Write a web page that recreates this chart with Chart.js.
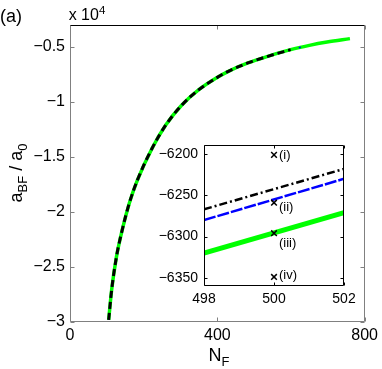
<!DOCTYPE html>
<html>
<head>
<meta charset="utf-8">
<script src="https://cdn.jsdelivr.net/npm/chart.js@4.4.0/dist/chart.umd.min.js"></script>
<style>
html, body { margin: 0; padding: 0; background: #fff; }
#wrap { position: relative; width: 382px; height: 369px; }
#main { position: absolute; left: 0; top: 0; }
#inset { position: absolute; left: 140px; top: 130px; }
</style>
</head>
<body>
<div id="wrap">
  <canvas id="main" width="382" height="369"></canvas>
  <canvas id="inset" width="242" height="180"></canvas>
</div>
<script>
// main panel: a_BF vs N_F (values in a_0)
const nMain = [105, 113, 126, 142, 161, 183, 223, 260, 303, 349, 397, 430, 483, 537, 599, 650, 698, 760];
const aMain = [-29800, -27100, -24100, -21600, -19200, -17100, -14200, -12100, -10300, -8900, -7820, -7210, -6450, -5850, -5240, -4850, -4550, -4240];
const nBlack = [105, 113, 126, 142, 161, 183, 223, 260, 303, 349, 397, 430, 483, 537, 599];
const aBlack = [-29800, -27100, -24100, -21600, -19200, -17100, -14200, -12100, -10300, -8900, -7820, -7210, -6450, -5850, -5240];
const nBlue = [105, 113, 126, 142, 161, 183, 223, 260, 303, 349, 397, 430, 483, 537, 599, 650];
const aBlue = [-29800, -27100, -24100, -21600, -19200, -17100, -14200, -12100, -10300, -8900, -7820, -7210, -6450, -5850, -5240, -4850];
const xTicks = [0, 400, 800];
const yTicks = [-30000, -25000, -20000, -15000, -10000, -5000];

// inset: zoom around N_F = 500
const nInset = [498, 502];
const aInsetBlack = [-6267, -6218];
const aInsetBlue = [-6280, -6230];
const aInsetGreen = [-6320, -6271];
const nMarker = [500, 500, 500, 500];
const aMarker = [-6201, -6259, -6296, -6349];
const markerLabels = ['(i)', '(ii)', '(iii)', '(iv)'];
const xInsetTicks = [498, 500, 502];
const yInsetTicks = [-6350, -6300, -6250, -6200];

const FONT = '"Liberation Sans", Arial, Helvetica, sans-serif';
const minus = s => String(s).replace('-', '\u2212');
const pts = (xs, ys) => xs.map((x, i) => ({ x: x, y: ys[i] }));

// draws text made of normal / subscript / superscript pieces
let drawPieces = (ctx, pieces, x, y, size) => {
    let w = 0;
    pieces.forEach(p => {
        ctx.font = (p.s ? size * 0.72 : size) + 'px ' + FONT;
        w += ctx.measureText(p.t).width;
    });
    let cx = x - w / 2;
    pieces.forEach(p => {
        ctx.font = (p.s ? size * 0.72 : size) + 'px ' + FONT;
        let dy = p.s === 'sub' ? size * 0.3 : (p.s === 'sup' ? -size * 0.4 : 0);
        ctx.fillText(p.t, cx, y + dy);
        cx += ctx.measureText(p.t).width;
    });
};

const mainFrame = {
    id: 'mainFrame',
    afterDraw(chart) {
        const ctx = chart.ctx;
        const a = chart.chartArea;
        const x = chart.scales.x, y = chart.scales.y;
        const L = Math.round(a.left) + 0.5, R = Math.round(a.right) - 0.5;
        const T = Math.round(a.top) + 0.5, B = Math.round(a.bottom) - 0.5;
        ctx.save();
        ctx.lineWidth = 1;
        ctx.strokeStyle = '#808080';
        ctx.beginPath();
        ctx.moveTo(L, T); ctx.lineTo(L, B); ctx.lineTo(R, B); ctx.lineTo(R, T);
        yTicks.forEach(v => {
            const py = Math.round(y.getPixelForValue(v)) + 0.5;
            ctx.moveTo(L, py); ctx.lineTo(L + 4, py);
            ctx.moveTo(R, py); ctx.lineTo(R - 4, py);
        });
        xTicks.forEach(v => {
            const px = Math.round(x.getPixelForValue(v)) + 0.5;
            ctx.moveTo(px, B); ctx.lineTo(px, B - 4);
            ctx.moveTo(px, T); ctx.lineTo(px, T + 4);
        });
        ctx.stroke();
        ctx.strokeStyle = '#000';
        ctx.beginPath();
        ctx.moveTo(L, T); ctx.lineTo(R, T);
        ctx.stroke();

        ctx.fillStyle = '#000';
        ctx.textBaseline = 'alphabetic';
        ctx.textAlign = 'left';
        ctx.font = '18px ' + FONT;
        ctx.fillText('(a)', 0, 22);
        drawPieces(ctx, [{ t: 'x 10' }, { t: '4', s: 'sup' }], 87, 20, 16);
        drawPieces(ctx, [{ t: 'N' }, { t: 'F', s: 'sub' }], 219, 361, 18);
        ctx.translate(22, 173);
        ctx.rotate(-Math.PI / 2);
        drawPieces(ctx, [{ t: 'a' }, { t: 'BF', s: 'sub' }, { t: ' / a' }, { t: '0', s: 'sub' }], 0, 0, 18);
        ctx.restore();
    }
};

new Chart(document.getElementById('main'), {
    type: 'line',
    data: {
        datasets: [{
            data: pts(nBlack, aBlack),
            borderColor: '#000000',
            borderWidth: 3,
            borderDash: [7, 4],
        }, {
            data: pts(nBlue, aBlue),
            borderColor: '#0000ff',
            borderWidth: 1.5,
            borderDash: [2, 9],
        }, {
            data: pts(nMain, aMain),
            borderColor: '#00ff00',
            borderWidth: 3.5,
        }]
    },
    options: {
        responsive: false,
        animation: false,
        events: [],
        elements: { point: { radius: 0 }, line: { cubicInterpolationMode: 'monotone', fill: false } },
        layout: { padding: { top: 25, right: 15, left: 0, bottom: 0 } },
        plugins: { legend: { display: false }, tooltip: { enabled: false } },
        scales: {
            x: {
                type: 'linear', min: 0, max: 800,
                afterBuildTicks: s => { s.ticks = xTicks.map(v => ({ value: v })); },
                afterFit: s => { s.height = 47; },
                grid: { display: false, drawTicks: false },
                border: { display: false },
                ticks: { color: '#000', padding: 4, maxRotation: 0, autoSkip: false, font: { family: FONT, size: 16 } }
            },
            y: {
                type: 'linear', min: -30000, max: -3000,
                afterBuildTicks: s => { s.ticks = yTicks.map(v => ({ value: v })); },
                afterFit: s => { s.width = 70; },
                grid: { display: false, drawTicks: false },
                border: { display: false },
                ticks: { color: '#000', padding: 5, font: { family: FONT, size: 16 }, callback: v => minus(v / 1e4) }
            }
        }
    },
    plugins: [mainFrame]
});

const insetFrame = {
    id: 'insetFrame',
    afterDraw(chart) {
        const ctx = chart.ctx;
        const a = chart.chartArea;
        const x = chart.scales.x, y = chart.scales.y;
        const L = Math.round(a.left) + 0.5, R = Math.round(a.right) - 0.5;
        const T = Math.round(a.top) + 0.5, B = Math.round(a.bottom) - 0.5;
        ctx.save();
        ctx.lineWidth = 1;
        ctx.strokeStyle = '#000';
        ctx.beginPath();
        ctx.rect(L, T, R - L, B - T);
        yInsetTicks.forEach(v => {
            const py = Math.round(y.getPixelForValue(v)) + 0.5;
            ctx.moveTo(L, py); ctx.lineTo(L + 3, py);
            ctx.moveTo(R, py); ctx.lineTo(R - 3, py);
        });
        xInsetTicks.forEach(v => {
            const px = Math.round(x.getPixelForValue(v)) + 0.5;
            ctx.moveTo(px, B); ctx.lineTo(px, B - 3);
            ctx.moveTo(px, T); ctx.lineTo(px, T + 3);
        });
        ctx.stroke();
        const offs = [[5, 1], [5, 5], [5, 10], [5, -2]];
        ctx.fillStyle = '#000';
        ctx.font = '13px ' + FONT;
        ctx.textAlign = 'left';
        ctx.textBaseline = 'middle';
        markerLabels.forEach((t, i) => {
            const px = x.getPixelForValue(nMarker[i]);
            const py = y.getPixelForValue(aMarker[i]);
            ctx.fillText(t, px + offs[i][0], py + offs[i][1]);
        });
        ctx.restore();
    }
};

new Chart(document.getElementById('inset'), {
    type: 'line',
    data: {
        datasets: [{
            data: pts(nMarker, aMarker),
            showLine: false,
            pointStyle: 'crossRot',
            pointRadius: 4,
            borderColor: '#000',
            borderWidth: 1.5,
        }, {
            data: pts(nInset, aInsetBlack),
            borderColor: '#000000',
            borderWidth: 2.5,
            borderDash: [8, 3, 2, 3],
            pointRadius: 0,
        }, {
            data: pts(nInset, aInsetBlue),
            borderColor: '#0000ff',
            borderWidth: 2.5,
            borderDash: [12, 2],
            pointRadius: 0,
        }, {
            data: pts(nInset, aInsetGreen),
            borderColor: '#00ff00',
            borderWidth: 5,
            pointRadius: 0,
        }]
    },
    options: {
        responsive: false,
        animation: false,
        events: [],
        layout: { padding: { top: 15, right: 38, left: 0, bottom: 0 } },
        plugins: { legend: { display: false }, tooltip: { enabled: false } },
        scales: {
            x: {
                type: 'linear', min: 498, max: 502,
                afterBuildTicks: s => { s.ticks = xInsetTicks.map(v => ({ value: v })); },
                afterFit: s => { s.height = 24; },
                grid: { display: false, drawTicks: false },
                border: { display: false },
                ticks: { color: '#000', padding: 5, maxRotation: 0, autoSkip: false, font: { family: FONT, size: 14 } }
            },
            y: {
                type: 'linear', min: -6360, max: -6189,
                afterBuildTicks: s => { s.ticks = yInsetTicks.map(v => ({ value: v })); },
                afterFit: s => { s.width = 64; },
                grid: { display: false, drawTicks: false },
                border: { display: false },
                ticks: { color: '#000', padding: 6, font: { family: FONT, size: 14 }, callback: v => minus(v) }
            }
        }
    },
    plugins: [insetFrame]
});
</script>
</body>
</html>
